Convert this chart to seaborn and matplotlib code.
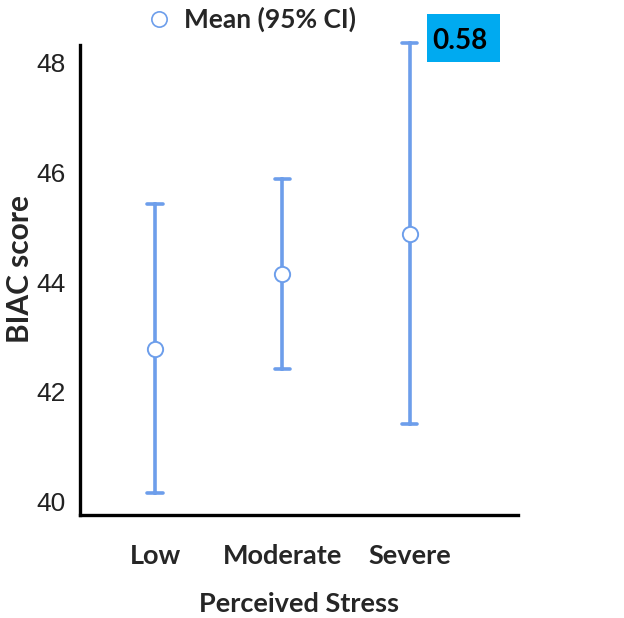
import matplotlib
matplotlib.use("Agg")
import matplotlib.pyplot as plt
from matplotlib.lines import Line2D
from matplotlib.patches import Rectangle
import numpy as np
import pandas as pd
import seaborn as sns

# summary values
levels = ["Low", "Moderate", "Severe"]
means = [42.79, 44.15, 44.87]
ci_low = [40.16, 42.42, 41.41]
ci_high = [45.43, 45.88, 48.35]
p_label = "0.58"

# three rows per group: median = mean, full range = CI
rows = []
for lev, m, lo, hi in zip(levels, means, ci_low, ci_high):
    for v in (lo, m, hi):
        rows.append({"stress": lev, "score": v})
df = pd.DataFrame(rows)

sns.set_style("white")
plt.rcParams["font.family"] = ["Liberation Sans", "DejaVu Sans"]
bold_font = ["Lato", "DejaVu Sans"]

blue = "#6d9eeb"

fig = plt.figure(figsize=(6.24, 6.18), dpi=100)
ax = fig.add_axes([0.128, 0.167, 0.702, 0.76])

sns.pointplot(data=df, x="stress", y="score", order=levels,
              estimator="median", errorbar=("pi", 100),
              color=blue, linestyle="none", marker="o", markersize=11,
              markerfacecolor="white", markeredgecolor=blue, markeredgewidth=1.4,
              capsize=0.12, err_kws={"linewidth": 2.6}, ax=ax)

for ln in ax.lines:
    ln.set_clip_on(False)
    if ln.get_marker() == "o":
        ln.set_zorder(5)

ax.set_xlim(-0.59, 2.85)
ax.set_ylim(39.76, 48.32)
ax.set_yticks([40, 42, 44, 46, 48])

for side in ["top", "right"]:
    ax.spines[side].set_visible(False)
for side in ["left", "bottom"]:
    ax.spines[side].set_linewidth(2.4)
    ax.spines[side].set_color("black")

ax.tick_params(axis="both", direction="out", length=6, width=1.3, color="black")
ax.tick_params(axis="y", labelsize=19, pad=4)
ax.tick_params(axis="x", labelsize=19.5, pad=15)
for lab in ax.get_xticklabels():
    lab.set_fontfamily(bold_font)
    lab.set_fontweight("bold")
for lab in ax.get_yticklabels():
    lab.set_color("#222222")

ax.set_xlabel("Perceived Stress", fontsize=19.5, fontweight="bold",
              family=bold_font, labelpad=17)
ax.set_ylabel("BIAC score", fontsize=21.5, fontweight="bold", family=bold_font)
ax.yaxis.set_label_coords(-0.105, 0.523)

handle = Line2D([], [], linestyle="none", marker="o", markersize=11,
                markerfacecolor="white", markeredgecolor=blue, markeredgewidth=1.2)
fig.legend([handle], ["Mean (95% CI)"], loc="upper center",
           bbox_to_anchor=(0.402, 1.027), frameon=False,
           handlelength=1.0, handletextpad=0.45,
           prop={"family": bold_font, "weight": "bold", "size": 19})

# p-value box
fig.patches.append(Rectangle((0.684, 0.8997), 0.117, 0.0777, transform=fig.transFigure,
                             facecolor="#00aaf0", edgecolor="none"))
fig.text(0.692, 0.933, p_label, fontsize=20, fontweight="bold",
         family=bold_font, color="black", ha="left", va="center")

fig.savefig("out.png", dpi=100)
